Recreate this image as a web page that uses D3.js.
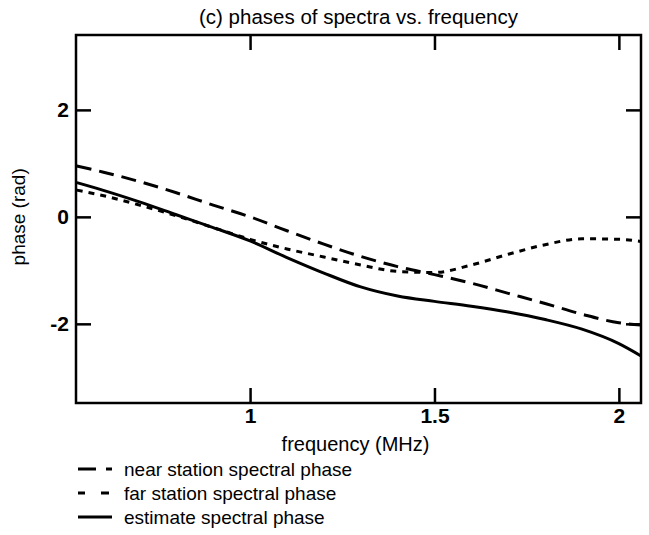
<!DOCTYPE html>
<html>
<head>
<meta charset="utf-8">
<script src="https://cdn.jsdelivr.net/npm/d3@7"></script>
<style>
  body { margin: 0; background: #fff; }
  text { font-family: "Liberation Sans", Arial, sans-serif; fill: #000; }
</style>
</head>
<body>
<script>
// frequency samples (MHz) and the three phase curves (rad)
var freq = [0.53, 0.6, 0.7, 0.8, 0.9, 1.0, 1.1, 1.2, 1.3, 1.4, 1.5, 1.6, 1.7, 1.8, 1.9, 2.0, 2.06];
var nearPhase = [0.95, 0.84, 0.66, 0.45, 0.22, 0.0, -0.26, -0.51, -0.74, -0.93, -1.08, -1.24, -1.43, -1.62, -1.82, -1.98, -2.02];
var farPhase = [0.5, 0.4, 0.22, 0.02, -0.2, -0.42, -0.6, -0.75, -0.9, -1.02, -1.04, -0.9, -0.7, -0.52, -0.41, -0.42, -0.46];
var estPhase = [0.64, 0.5, 0.28, 0.04, -0.2, -0.45, -0.76, -1.05, -1.31, -1.48, -1.58, -1.67, -1.78, -1.92, -2.1, -2.37, -2.6];

var xTicks = [1, 1.5, 2];
var yTicks = [-2, 0, 2];
var legendLabels = ["near station spectral phase", "far station spectral phase", "estimate spectral phase"];

var width = 649, height = 535;
var margin = { top: 35, right: 8, bottom: 132, left: 76 };
var w = width - margin.left - margin.right;
var h = height - margin.top - margin.bottom;

var svg = d3.select("body").append("svg")
    .attr("width", width)
    .attr("height", height);

var g = svg.append("g")
    .attr("transform", "translate(" + margin.left + "," + margin.top + ")");

var x = d3.scaleLinear().domain([0.528, 2.06]).range([0, w]);
var y = d3.scaleLinear().domain([-3.48, 3.40]).range([h, 0]);

// frame
g.append("rect")
    .attr("width", w).attr("height", h)
    .attr("fill", "none").attr("stroke", "#000").attr("stroke-width", 2.5);

var tick = 15;
var fmt = d => String(d);
// inward ticks on all sides
g.append("g")
    .attr("transform", "translate(0," + h + ")")
    .call(d3.axisBottom(x).tickValues(xTicks).tickSize(-tick).tickPadding(5).tickFormat(fmt))
    .call(s => s.select(".domain").remove());
g.append("g")
    .call(d3.axisTop(x).tickValues(xTicks).tickSize(-tick).tickFormat(""))
    .call(s => s.select(".domain").remove());
g.append("g")
    .call(d3.axisLeft(y).tickValues(yTicks).tickSize(-tick).tickPadding(7).tickFormat(fmt))
    .call(s => s.select(".domain").remove());
g.append("g")
    .attr("transform", "translate(" + w + ",0)")
    .call(d3.axisRight(y).tickValues(yTicks).tickSize(-tick).tickFormat(""))
    .call(s => s.select(".domain").remove());

g.selectAll(".tick line").attr("stroke", "#000").attr("stroke-width", 2.5);
g.selectAll(".tick text")
    .style("font-size", "21px")
    .style("font-weight", "bold")
    .style("font-family", "'Liberation Sans', Arial, sans-serif");

// title and axis labels
svg.append("text")
    .attr("x", margin.left + w / 2).attr("y", 24)
    .attr("text-anchor", "middle")
    .style("font-size", "20.5px")
    .text("(c) phases of spectra vs. frequency");

svg.append("text")
    .attr("x", margin.left + w / 2 - 3).attr("y", margin.top + h + 48)
    .attr("text-anchor", "middle")
    .style("font-size", "20px")
    .text("frequency (MHz)");

svg.append("text")
    .attr("transform", "translate(25," + (margin.top + y(0)) + ") rotate(-90)")
    .attr("text-anchor", "middle")
    .style("font-size", "19px")
    .text("phase (rad)");

// curves
var series = [
  { values: nearPhase, dash: "15,8" },
  { values: farPhase, dash: "6,6" },
  { values: estPhase, dash: null }
];

var line = d3.line()
    .x((d, i) => x(freq[i]))
    .y(d => y(d))
    .curve(d3.curveMonotoneX);

g.selectAll(".curve")
  .data(series)
  .enter().append("path")
    .attr("class", "curve")
    .attr("d", d => line(d.values))
    .attr("fill", "none")
    .attr("stroke", "#000")
    .attr("stroke-width", 3)
    .attr("stroke-dasharray", d => d.dash);

// legend
var legend = svg.append("g")
    .attr("transform", "translate(78," + (margin.top + h + 66) + ")");

legend.selectAll("line")
  .data(series)
  .enter().append("line")
    .attr("x1", 0).attr("x2", 34)
    .attr("y1", (d, i) => i * 24).attr("y2", (d, i) => i * 24)
    .attr("stroke", "#000").attr("stroke-width", 3)
    .attr("stroke-dasharray", (d, i) => i === 0 ? "18,10,6,2" : i === 1 ? "7,16,8" : null);

legend.selectAll("text")
  .data(legendLabels)
  .enter().append("text")
    .attr("x", 46).attr("y", (d, i) => i * 24 + 7)
    .style("font-size", "19px")
    .text(d => d);
</script>
</body>
</html>
